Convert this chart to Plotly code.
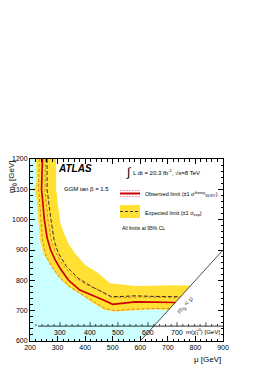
import numpy as np
import plotly.graph_objects as go

# ---------------- data ----------------
obs_mu = [245, 242, 252, 262, 275, 290, 309, 339, 381, 430, 466, 500, 540, 581, 650, 727]
obs_m  = [1200, 1100, 1000, 940, 900, 870, 840, 801, 768, 750, 735, 721, 724, 729, 728, 727]

theo_up_mu = [256, 254, 265, 278, 292, 318, 355, 400, 450, 495, 540, 600, 680, 742]
theo_up_m  = [1200, 1100, 1000, 930, 895, 850, 815, 788, 768, 745, 743, 745, 744, 742]

theo_dn_mu = [234, 231, 240, 246, 258, 282, 312, 350, 395, 435, 470, 508, 581, 650, 707]
theo_dn_m  = [1200, 1100, 1000, 930, 880, 840, 805, 775, 750, 727, 708, 700, 705, 707, 707]

exp_mu = [262, 262, 276, 288, 303, 333, 375, 424, 460, 496, 540, 581, 650, 746]
exp_m  = [1200, 1100, 1000, 930, 889, 845, 807, 779, 762, 746, 747, 749, 747, 746]

band_up_mu = [295, 295, 309, 321, 340, 363, 399, 448, 490, 533, 581, 650, 700, 783]
band_up_m  = [1200, 1100, 993, 960, 920, 889, 851, 823, 790, 785, 781, 782, 784, 783]

band_dn_mu = [222, 224, 215, 224, 230, 236, 248, 273, 303, 339, 388, 430, 472, 508, 581, 650, 702]
band_dn_m  = [1200, 1130, 1100, 1070, 1000, 933, 889, 851, 812, 779, 752, 724, 702, 697, 702, 705, 702]

diag_mu = [600, 900]
diag_m = [600, 900]

# neutralino-mass scale drawn inside the plot: label value -> mu position
chi_labels = [300, 400, 500, 600, 700]
chi_ref = [200, 300, 400, 500, 600, 700, 800, 900]
chi_ref_mu = [200, 309, 418, 519, 628, 733, 838, 943]
chi_axis_m = 649

# ---------------- styling ----------------
FONT = "Liberation Sans, Arial, Helvetica, sans-serif"
YELLOW = "#FFE033"
CYAN = "#CCFFFF"
RED = "#CC0000"

W, H = 261, 369
L, R, T, B = 30, 223, 159, 341  # plot-area pixel box


def px(xp):
    return (xp - L) / (R - L)


def py(yp):
    return (B - yp) / (B - T)


fig = go.Figure()

# excluded (cyan) region: below observed limit, bounded by the diagonal
cyan_x = [200, 200] + obs_mu + [600]
cyan_y = [600, 1200] + obs_m + [600]
fig.add_trace(go.Scatter(x=cyan_x, y=cyan_y, fill="toself", fillcolor=CYAN,
                         mode="lines", line=dict(width=0), hoverinfo="skip"))

# yellow expected band
bx = band_up_mu + band_dn_mu[::-1]
by = band_up_m + band_dn_m[::-1]
fig.add_trace(go.Scatter(x=bx, y=by, fill="toself", fillcolor=YELLOW,
                         mode="lines", line=dict(width=0), hoverinfo="skip"))

# theory uncertainty lines
for xs, ys in [(theo_up_mu, theo_up_m), (theo_dn_mu, theo_dn_m)]:
    fig.add_trace(go.Scatter(x=xs, y=ys, mode="lines",
                             line=dict(color="rgba(210,60,40,0.75)", width=0.8, dash="3px,2px"),
                             hoverinfo="skip"))

# expected limit
fig.add_trace(go.Scatter(x=exp_mu, y=exp_m, mode="lines",
                         line=dict(color="#333333", width=1, dash="4px,2px"), hoverinfo="skip"))
# observed limit
fig.add_trace(go.Scatter(x=obs_mu, y=obs_m, mode="lines",
                         line=dict(color=RED, width=1.7), hoverinfo="skip"))
# kinematic boundary
fig.add_trace(go.Scatter(x=diag_mu, y=diag_m, mode="lines",
                         line=dict(color="black", width=0.7), hoverinfo="skip"))

shapes = []
annotations = []

# inner neutralino-mass axis
chi_ticks = np.arange(220, 881, 20)
chi_ticks_mu = np.interp(chi_ticks, chi_ref, chi_ref_mu)
shapes.append(dict(type="line", xref="x", yref="y", x0=229, x1=900,
                   y0=chi_axis_m, y1=chi_axis_m, line=dict(color="black", width=0.8)))
for c, m in zip(chi_ticks, chi_ticks_mu):
    if m >= 900:
        continue
    major = (c % 100 == 0)
    ln = 13 if major else 7
    shapes.append(dict(type="line", xref="x", yref="y", x0=m, x1=m,
                       y0=chi_axis_m, y1=chi_axis_m + ln,
                       line=dict(color="black", width=0.7)))
for c in chi_labels:
    m = float(np.interp(c, chi_ref, chi_ref_mu))
    annotations.append(dict(x=m, y=chi_axis_m, xref="x", yref="y", text=str(c),
                            showarrow=False, yanchor="top", xanchor="center", yshift=-1,
                            font=dict(family=FONT, size=7, color="black")))
annotations.append(dict(x=1.0, y=chi_axis_m, xref="paper", yref="y",
                        text="m(χ̃<sub>1</sub><sup>0</sup>) [GeV]", showarrow=False,
                        xanchor="right", yanchor="top", yshift=1, xshift=-1,
                        font=dict(family=FONT, size=6, color="black")))

# axis titles
annotations.append(dict(x=1.0, y=py(359), xref="paper", yref="paper", text="μ [GeV]",
                        showarrow=False, xanchor="right", yanchor="middle",
                        font=dict(family=FONT, size=8, color="black")))
annotations.append(dict(x=px(12), y=1.0, xref="paper", yref="paper",
                        text="m<sub>g̃</sub> [GeV]", textangle=-90, showarrow=False,
                        xanchor="center", yanchor="top",
                        font=dict(family=FONT, size=8, color="black")))

# ATLAS label
annotations.append(dict(x=px(56), y=py(168), xref="paper", yref="paper",
                        text="<b><i>ATLAS</i></b>", showarrow=False,
                        xanchor="left", yanchor="middle",
                        font=dict(family=FONT, size=10, color="black")))
# luminosity
annotations.append(dict(x=px(124), y=py(172), xref="paper", yref="paper",
                        text="∫", showarrow=False, xanchor="left", yanchor="middle",
                        font=dict(family=FONT, size=12, color="black")))
annotations.append(dict(x=px(131), y=py(172), xref="paper", yref="paper",
                        text="L dt = 20.3 fb<sup>-1</sup>, √s=8 TeV", showarrow=False,
                        xanchor="left", yanchor="middle",
                        font=dict(family=FONT, size=6, color="black")))
annotations.append(dict(x=px(62), y=py(189), xref="paper", yref="paper",
                        text="GGM tan β = 1.5", showarrow=False,
                        xanchor="left", yanchor="middle",
                        font=dict(family=FONT, size=6, color="black")))

# legend (drawn by hand)
shapes.append(dict(type="line", xref="paper", yref="paper", x0=px(120), x1=px(140),
                   y0=py(190.5), y1=py(190.5),
                   line=dict(color="rgba(204,0,0,0.45)", width=0.8, dash="2px,1px")))
shapes.append(dict(type="line", xref="paper", yref="paper", x0=px(120), x1=px(140),
                   y0=py(196.5), y1=py(196.5),
                   line=dict(color="rgba(204,0,0,0.45)", width=0.8, dash="2px,1px")))
shapes.append(dict(type="line", xref="paper", yref="paper", x0=px(120), x1=px(140),
                   y0=py(193.5), y1=py(193.5), line=dict(color=RED, width=2)))
annotations.append(dict(x=px(143), y=py(194), xref="paper", yref="paper",
                        text="Observed limit (±1 σ<sup>theory</sup><sub>SUSY</sub>)",
                        showarrow=False, xanchor="left", yanchor="middle",
                        font=dict(family=FONT, size=5.5, color="black")))
shapes.append(dict(type="rect", xref="paper", yref="paper", x0=px(120), x1=px(140),
                   y0=py(218), y1=py(205), fillcolor=YELLOW, line=dict(width=0)))
shapes.append(dict(type="line", xref="paper", yref="paper", x0=px(120), x1=px(140),
                   y0=py(211.5), y1=py(211.5),
                   line=dict(color="#333333", width=1, dash="3px,2px")))
annotations.append(dict(x=px(143), y=py(213), xref="paper", yref="paper",
                        text="Expected limit (±1 σ<sub>exp</sub>)",
                        showarrow=False, xanchor="left", yanchor="middle",
                        font=dict(family=FONT, size=5.5, color="black")))
annotations.append(dict(x=px(120), y=py(228), xref="paper", yref="paper",
                        text="All limits at 95% CL",
                        showarrow=False, xanchor="left", yanchor="middle",
                        font=dict(family=FONT, size=5, color="black")))

# diagonal label
annotations.append(dict(x=763, y=718, xref="x", yref="y", text="m<sub>g̃</sub> < μ",
                        textangle=-47.7, showarrow=False,
                        font=dict(family=FONT, size=7, color="#555555")))

axis_common = dict(showgrid=False, zeroline=False, showline=True, linecolor="black",
                   linewidth=1, mirror="ticks", ticks="inside", ticklen=5,
                   tickwidth=0.8, tickcolor="black", dtick=100,
                   tickfont=dict(family=FONT, size=7, color="black"),
                   minor=dict(ticks="inside", ticklen=2.5, dtick=20, tickwidth=0.7,
                              tickcolor="black"))

fig.update_layout(
    width=W, height=H,
    margin=dict(l=L, r=W - R, t=T, b=H - B, pad=0),
    paper_bgcolor="white", plot_bgcolor="white",
    showlegend=False,
    xaxis=dict(range=[200, 900], tick0=200, automargin=False, **axis_common),
    yaxis=dict(range=[600, 1200], tick0=600, automargin=False, **axis_common),
    shapes=shapes, annotations=annotations,
)

fig.write_html("out.html", config={"displayModeBar": False},
               post_script="document.body.style.margin='0';document.body.style.padding='0';")
